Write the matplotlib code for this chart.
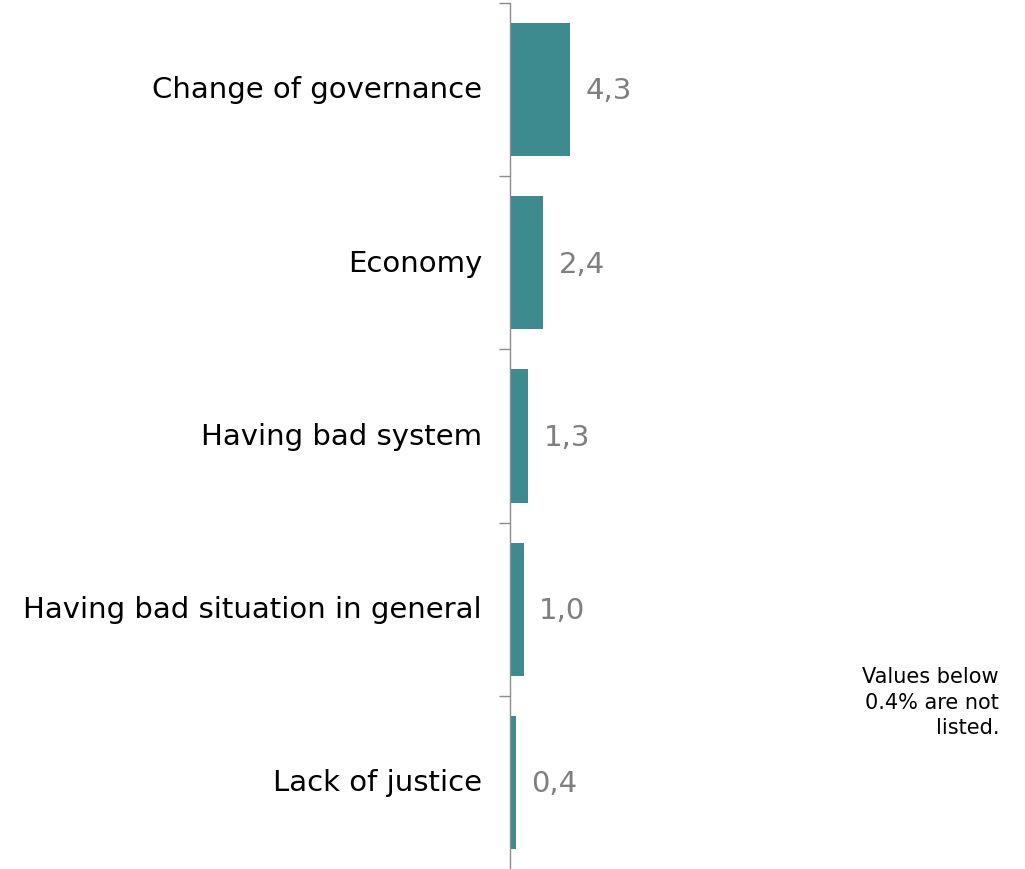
import matplotlib.pyplot as plt
import numpy as np

# ==========================
# DATA
# ==========================

categories = [
    'Change of governance',
    'Economy',
    'Having bad system',
    'Having bad situation in general',
    'Lack of justice',
]
values = [4.3, 2.4, 1.3, 1.0, 0.4]
value_labels = ['4,3', '2,4', '1,3', '1,0', '0,4']

note = 'Values below\n0.4% are not\nlisted.'

# ==========================
# CHART
# ==========================

fig = plt.figure(figsize=(10.25, 8.69), dpi=100)
ax = fig.add_axes([510 / 1025, 0, 1 - 510 / 1025, 1 - 3 / 869])

y = np.arange(len(categories))
ax.barh(y, values, height=0.77, color='#3D8B8F')

ax.set_ylim(len(categories) - 0.5, -0.5)
ax.set_xlim(0, 515 / 13.95)

for i, (v, lab) in enumerate(zip(values, value_labels)):
    ax.text(v + 1.1, i + 0.01, lab, va='center', ha='left', fontsize=21, color='#7F7F7F')

for i, cat in enumerate(categories):
    ax.text(-2.0, i + 0.005, cat, va='center', ha='right', fontsize=21, color='black')

# boundary ticks on the left of the axis (none at the bottom)
ax.set_yticks(np.arange(-0.5, len(categories) - 1, 1.0))
ax.set_yticklabels([])
ax.tick_params(axis='y', direction='out', length=8, width=1, color='#8C8C8C')
ax.set_xticks([])

for s in ['top', 'right', 'bottom']:
    ax.spines[s].set_visible(False)
ax.spines['left'].set_color('#8C8C8C')
ax.spines['left'].set_linewidth(1)

fig.text(999 / 1025, 1 - 667 / 869, note, ha='right', va='top', fontsize=15,
         color='black', linespacing=1.35)

plt.savefig('out.png', dpi=100)
